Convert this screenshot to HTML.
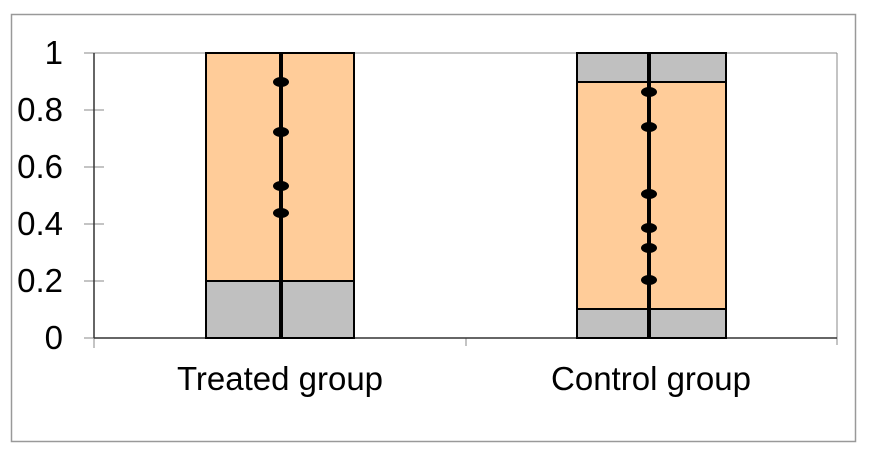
<!DOCTYPE html>
<html><head><style>body{margin:0;background:#fff}</style></head><body>
<svg width="872" height="458" xmlns="http://www.w3.org/2000/svg" font-family="Liberation Sans, sans-serif">
<rect x="11.5" y="14.5" width="844" height="427" fill="#fff" stroke="#999" stroke-width="1.5"/>
<g stroke="#888" stroke-width="1">
<line x1="84" y1="53" x2="837" y2="53"/>
<line x1="837" y1="53" x2="837" y2="345"/>
<line x1="84" y1="110" x2="104" y2="110"/>
<line x1="84" y1="167" x2="104" y2="167"/>
<line x1="84" y1="224" x2="104" y2="224"/>
<line x1="84" y1="281" x2="104" y2="281"/>
<line x1="84" y1="338" x2="94" y2="338"/>
<line x1="94" y1="338" x2="94" y2="348"/>
<line x1="466" y1="338" x2="466" y2="346"/>
</g>
<line x1="94" y1="53" x2="94" y2="338" stroke="#333" stroke-width="1.5"/>
<line x1="94" y1="338" x2="837" y2="338" stroke="#333" stroke-width="1.5"/>
<g font-size="33" text-anchor="end" fill="#000">
<text x="63" y="64">1</text>
<text x="63" y="121">0.8</text>
<text x="63" y="178">0.6</text>
<text x="63" y="235">0.4</text>
<text x="63" y="292">0.2</text>
<text x="63" y="349">0</text>
</g>
<g stroke="#000" stroke-width="2">
<rect x="206" y="53" width="148" height="228" fill="#ffcc99"/>
<rect x="206" y="281" width="148" height="57" fill="#c0c0c0"/>
<rect x="577" y="53" width="149" height="29" fill="#c0c0c0"/>
<rect x="577" y="82" width="149" height="227" fill="#ffcc99"/>
<rect x="577" y="309" width="149" height="29" fill="#c0c0c0"/>
</g>
<line x1="281" y1="53" x2="281" y2="338" stroke="#000" stroke-width="4"/>
<line x1="649" y1="53" x2="649" y2="338" stroke="#000" stroke-width="4"/>
<g fill="#000">
<ellipse cx="281" cy="82" rx="8" ry="5"/>
<ellipse cx="281" cy="132" rx="8" ry="5"/>
<ellipse cx="281" cy="186" rx="8" ry="5"/>
<ellipse cx="281" cy="213" rx="8" ry="5"/>
<ellipse cx="649" cy="92" rx="8" ry="5"/>
<ellipse cx="649" cy="127" rx="8" ry="5"/>
<ellipse cx="649" cy="194" rx="8" ry="5"/>
<ellipse cx="649" cy="228" rx="8" ry="5"/>
<ellipse cx="649" cy="248" rx="8" ry="5"/>
<ellipse cx="649" cy="280" rx="8" ry="5"/>
</g>
<g font-size="33" text-anchor="middle" fill="#000">
<text x="280" y="390">Treated group</text>
<text x="651" y="390">Control group</text>
</g>
</svg>
</body></html>
